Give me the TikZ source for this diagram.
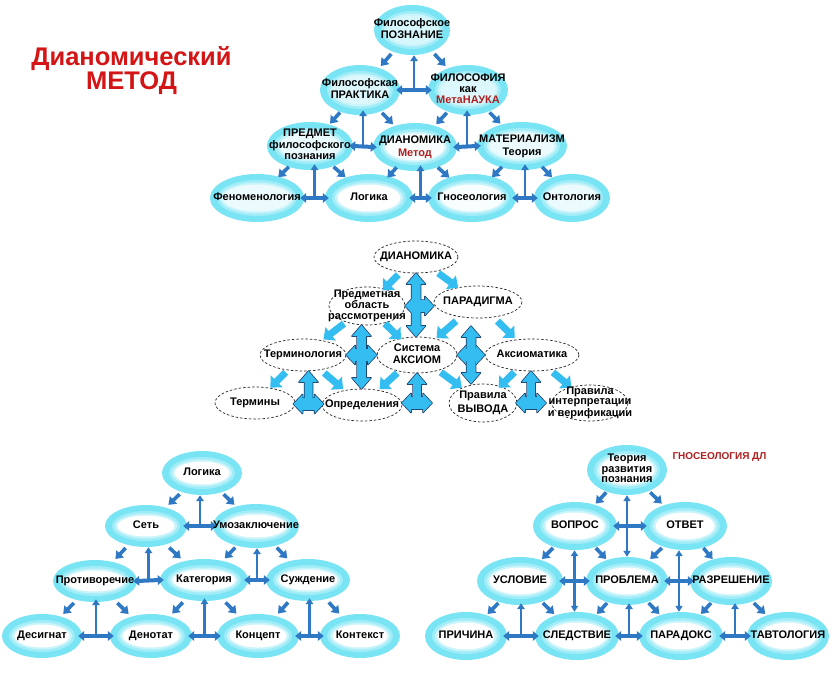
\documentclass[tikz,border=0pt]{standalone}
\usepackage{fontspec}
\setmainfont{Liberation Sans}
\usetikzlibrary{calc,arrows.meta,shapes.geometric}
\definecolor{cy}{HTML}{78E4F4}
\definecolor{ar}{HTML}{2E78C4}
\definecolor{lb}{HTML}{34BDF0}
\definecolor{lbd}{HTML}{1C3A66}
\definecolor{tred}{HTML}{D41515}
\definecolor{mred}{HTML}{B02020}
\pgfdeclarelayer{bg}
\pgfdeclarelayer{fg}
\pgfsetlayers{bg,main,fg}
\newcommand\tx[1]{\makebox[0pt]{\smash{\raisebox{-0.25em}{\begin{tabular}{@{}c@{}}#1\end{tabular}}}}}
\tikzset{
 lbl/.style={ellipse, inner sep=0pt, text=black},
 darr/.style={draw=ar, line width=3.6pt, -{Triangle[width=10pt,length=7pt]}},
 tv/.style={draw=ar, line width=2.6pt, -{Triangle[width=7.5pt,length=6pt]}},
 th/.style={draw=ar, line width=4pt, {Triangle[width=9.5pt,length=6pt]}-{Triangle[width=9.5pt,length=6pt]}, shorten <=-4pt, shorten >=-4pt},
 vdbl/.style={draw=ar, line width=2.4pt, {Triangle[width=7pt,length=6pt]}-{Triangle[width=7pt,length=6pt]}},
 mout/.style={draw=lbd, line width=1.5pt, line join=round},
 mfill/.style={fill=lb},
}
\newcommand\RN[7]{%
 \begin{pgfonlayer}{bg}
 \fill[cy] (#2) ellipse [x radius=#3, y radius=#4];
 \fill[cy!70!white] (#2) ellipse [x radius=#3-7, y radius=#4-6];
 \fill[cy!40!white] (#2) ellipse [x radius=#3-10, y radius=#4-8.5];
 \fill[cy!#5!white] (#2) ellipse [x radius=#3-12.5, y radius=#4-10.5];
 \end{pgfonlayer}
 \begin{pgfonlayer}{fg}
 \node[lbl, font=\bfseries\fontsize{11}{#6}\selectfont, minimum width=2*#3, minimum height=2*#4] (#1) at (#2) {\tx{#7}};
 \end{pgfonlayer}}
\newcommand\DN[6]{%
 \begin{pgfonlayer}{bg}
 \filldraw[fill=white, draw=black!85, line width=0.7pt, dash pattern=on 2.5pt off 2pt] (#2) ellipse [x radius=#3, y radius=#4];
 \end{pgfonlayer}
 \begin{pgfonlayer}{fg}
 \node[lbl, font=\bfseries\fontsize{11}{#5}\selectfont, minimum width=2*#3, minimum height=2*#4] (#1) at (#2) {\tx{#6}};
 \end{pgfonlayer}}
\newcommand\DA[2]{\draw[darr] ($(#1)!0.4!(#2)$) -- ($(#1)!0.6!(#2)$);}
\newcommand\TT[5]{%
 \coordinate (#4) at ($(#1.east)!0.5!(#2.west)$);
 \draw[tv, shorten >=#5] (#4) -- (#4 |- #3.south);
 \draw[th] (#1.east) -- (#2.west);}
\newcommand\FS[6][mfill]{%
 \coordinate (fa1) at #2; \coordinate (fa2) at #3;
 \coordinate (fa3) at ($(fa2)!#6!(fa1)$);
 \path[#1] ($(fa1)!#4!90:(fa2)$) -- ($(fa3)!#4!90:(fa2)$) -- ($(fa3)!#5!90:(fa2)$) -- (fa2) -- ($(fa3)!#5!-90:(fa2)$) -- ($(fa3)!#4!-90:(fa2)$) -- ($(fa1)!#4!-90:(fa2)$) -- cycle;}
\newcommand\FD[6][mfill]{%
 \coordinate (fa1) at #2; \coordinate (fa2) at #3;
 \coordinate (fa3) at ($(fa2)!#6!(fa1)$);
 \coordinate (fa4) at ($(fa1)!#6!(fa2)$);
 \path[#1] (fa1) -- ($(fa4)!#5!90:(fa2)$) -- ($(fa4)!#4!90:(fa2)$) -- ($(fa3)!#4!90:(fa2)$) -- ($(fa3)!#5!90:(fa2)$) -- (fa2) -- ($(fa3)!#5!-90:(fa2)$) -- ($(fa3)!#4!-90:(fa2)$) -- ($(fa4)!#4!-90:(fa2)$) -- ($(fa4)!#5!-90:(fa2)$) -- cycle;}
\newcommand\MA[2]{\FS{($(#1)!0.36!(#2)$)}{($(#1)!0.68!(#2)$)}{3.5pt}{8.5pt}{9pt}}
\newcommand\MX[4]{%
 \FD[mout]{#1}{#2}{4.5pt}{9.5pt}{11pt}\FD[mout]{#3}{#4}{6pt}{9.5pt}{9pt}%
 \FD{#1}{#2}{4.5pt}{9.5pt}{11pt}\FD{#3}{#4}{6pt}{9.5pt}{9pt}}
% vertical single up arrow from #1 to #2, short horizontal double arrow centred on #1
\newcommand\MY[2]{%
 \FS[mout]{#1}{#2}{4pt}{9.5pt}{11pt}\FD[mout]{($#1+(-15,0)$)}{($#1+(15,0)$)}{6pt}{9.5pt}{9pt}%
 \FS{#1}{#2}{4pt}{9.5pt}{11pt}\FD{($#1+(-15,0)$)}{($#1+(15,0)$)}{6pt}{9.5pt}{9pt}}
\begin{document}
\begin{tikzpicture}[x=1pt,y=-1pt]
\begin{pgfonlayer}{bg}
\fill[white] (0,0) rectangle (833,680);
\end{pgfonlayer}
\useasboundingbox (0,0) rectangle (833,680);

% title
\node[font=\bfseries\fontsize{25.5}{30}\selectfont, text=tred, anchor=base] (title1) at (131.5,65) {Дианомический};
\node[font=\bfseries\fontsize{25.5}{30}\selectfont, text=tred, anchor=base] (title2) at (131.5,89) {МЕТОД};

% ---------- top pyramid ----------
\RN{t1}{412,30}{38}{25}{30}{12.5}{Философское\\ПОЗНАНИЕ}
\RN{t2}{360,90}{40}{25}{25}{12.5}{Философская\\ПРАКТИКА}
\RN{t3}{468,90}{40}{25}{25}{10.8}{ФИЛОСОФИЯ\\как\\\color{mred}МетаНАУКА}
\RN{t4}{310,146}{43}{24}{15}{11.2}{ПРЕДМЕТ\\философского\\познания}
\RN{t5}{415,147}{42}{24}{5}{13}{ДИАНОМИКА\\\color{mred}Метод}
\RN{t6}{522,146}{45}{24}{15}{13}{МАТЕРИАЛИЗМ\\Теория}
\RN{t7}{257,198}{47}{24}{15}{12}{Феноменология}
\RN{t8}{369,198}{44}{24}{0}{12}{Логика}
\RN{t9}{472,198}{44}{24}{5}{12}{Гносеология}
\RN{t10}{572,198}{38}{24}{15}{12}{Онтология}
\DA{t1}{t2}\DA{t1}{t3}\DA{t2}{t4}\DA{t2}{t5}\DA{t3}{t5}\DA{t3}{t6}
\DA{t4}{t7}\DA{t4}{t8}\DA{t5}{t8}\DA{t5}{t9}\DA{t6}{t9}\DA{t6}{t10}
\TT{t2}{t3}{t1}{th1}{0pt}
\TT{t4}{t5}{t2}{th2}{-5pt}
\TT{t5}{t6}{t3}{th3}{-5pt}
\TT{t7}{t8}{t4}{th4}{-6pt}
\TT{t8}{t9}{t5}{th5}{-6pt}
\TT{t9}{t10}{t6}{th6}{-6pt}

% ---------- middle pyramid ----------
\DN{m1}{416,257}{42}{16}{12}{ДИАНОМИКА}
\DN{m2}{367,306}{38}{19}{10.5}{Предметная\\область\\рассмотрения}
\DN{m3}{478,302}{44}{16}{12}{ПАРАДИГМА}
\DN{m4}{303,355}{43}{16}{12}{Терминология}
\DN{m5}{417,355}{40}{18}{12.5}{Система\\АКСИОМ}
\DN{m6}{532,355}{47}{16}{12}{Аксиоматика}
\DN{m7}{255,403}{40}{16}{12}{Термины}
\DN{m8}{362,405}{40}{16}{12}{Определения}
\DN{m9}{483,403}{34}{19}{14}{Правила\\ВЫВОДА}
\DN{m10}{590,403}{38}{18}{10.5}{Правила\\интерпретации\\и верификации}
\MA{m1}{m2}\MA{m1}{m3}\MA{m2}{m4}\MA{m2}{m5}\MA{m3}{m5}\MA{m3}{m6}
\MA{m4}{m7}\MA{m4}{m8}\MA{m5}{m8}\MA{m5}{m9}\MA{m6}{m9}\MA{m6}{m10}
\coordinate (mc2) at ($(m4.east)!0.5!(m5.west)$);
\coordinate (mc3) at ($(m5.east)!0.5!(m6.west)$);
\coordinate (mc4) at ($(m7.east)!0.5!(m8.west)$);
\coordinate (mc5) at (m5.south |- m9.west);
\coordinate (mc6) at ($(m6.south |- m9.east)+(-1,0)$);
\MX{(m1.south)}{(m1.south |- m5.north)}{(m2.east)}{(m2.east -| m3.west)}
\MX{(mc2 |- m2.south)}{(mc2 |- m8.north)}{(m4.east)}{(m5.west)}
\MX{($(mc3 |- m3.south)+(0,8)$)}{(mc3 |- m9.north)}{(m5.east)}{(m6.west)}
\MY{(mc4)}{(mc4 |- m4.south)}
\MY{(mc5)}{(m5.south)}
\MY{(mc6)}{(mc6 |- m6.south)}

% ---------- bottom-left pyramid ----------
\RN{l1}{202,473}{40}{22}{0}{12}{Логика}
\RN{l2}{146,526}{41}{21}{0}{12}{Сеть}
\RN{l3}{256,526}{43}{22}{0}{12}{Умозаключение}
\RN{l4}{95,581}{42}{21}{0}{12}{Противоречие}
\RN{l5}{204,580}{44}{21}{0}{12}{Категория}
\RN{l6}{308,580}{42}{21}{0}{12}{Суждение}
\RN{l7}{42,636}{40}{22}{0}{12}{Десигнат}
\RN{l8}{151,636}{41}{22}{0}{12}{Денотат}
\RN{l9}{258,636}{41}{22}{0}{12}{Концепт}
\RN{l10}{360,636}{40}{22}{0}{12}{Контекст}
\DA{l1}{l2}\DA{l1}{l3}\DA{l2}{l4}\DA{l2}{l5}\DA{l3}{l5}\DA{l3}{l6}
\DA{l4}{l7}\DA{l4}{l8}\DA{l5}{l8}\DA{l5}{l9}\DA{l6}{l9}\DA{l6}{l10}
\TT{l2}{l3}{l1}{lh1}{0pt}
\TT{l4}{l5}{l2}{lh2}{0pt}
\TT{l5}{l6}{l3}{lh3}{0pt}
\TT{l7}{l8}{l4}{lh4}{-3pt}
\TT{l8}{l9}{l5}{lh5}{-3pt}
\TT{l9}{l10}{l6}{lh6}{-3pt}

% ---------- bottom-right pyramid ----------
\RN{r1}{627,470}{40}{25}{0}{10.5}{Теория\\развития\\познания}
\RN{r2}{575,526}{42}{24}{0}{12}{ВОПРОС}
\RN{r3}{685,526}{42}{24}{0}{12}{ОТВЕТ}
\RN{r4}{520,581}{43}{24}{0}{12}{УСЛОВИЕ}
\RN{r5}{627,581}{41}{24}{0}{12}{ПРОБЛЕМА}
\RN{r6}{731,581}{41}{24}{0}{12}{РАЗРЕШЕНИЕ}
\RN{r7}{466,636}{41}{24}{0}{12}{ПРИЧИНА}
\RN{r8}{577,636}{42}{24}{0}{12}{СЛЕДСТВИЕ}
\RN{r9}{681,636}{42}{24}{0}{12}{ПАРАДОКС}
\RN{r10}{788,636}{41}{24}{0}{12}{ТАВТОЛОГИЯ}
\node[font=\bfseries\fontsize{10}{12}\selectfont, text=mred, anchor=west] (gdl) at (669,457) {ГНОСЕОЛОГИЯ ДЛ};
\DA{r1}{r2}\DA{r1}{r3}\DA{r2}{r4}\DA{r2}{r5}\DA{r3}{r5}\DA{r3}{r6}
\DA{r4}{r7}\DA{r4}{r8}\DA{r5}{r8}\DA{r5}{r9}\DA{r6}{r9}\DA{r6}{r10}
\draw[vdbl] (r1.south) -- (r1.south |- r5.north);
\draw[th] (r2.east) -- (r3.west);
\coordinate (rh2) at ($(r4.east)!0.5!(r5.west)$);
\draw[vdbl] (rh2 |- r2.south) -- (rh2 |- r8.north);
\draw[th] (r4.east) -- (r5.west);
\coordinate (rh3) at ($(r5.east)!0.5!(r6.west)$);
\draw[vdbl] (rh3 |- r3.south) -- (rh3 |- r9.north);
\draw[th] (r5.east) -- (r6.west);
\TT{r7}{r8}{r4}{rh4}{-2pt}
\TT{r8}{r9}{r5}{rh5}{-2pt}
\TT{r9}{r10}{r6}{rh6}{-2pt}
\end{tikzpicture}
\end{document}
